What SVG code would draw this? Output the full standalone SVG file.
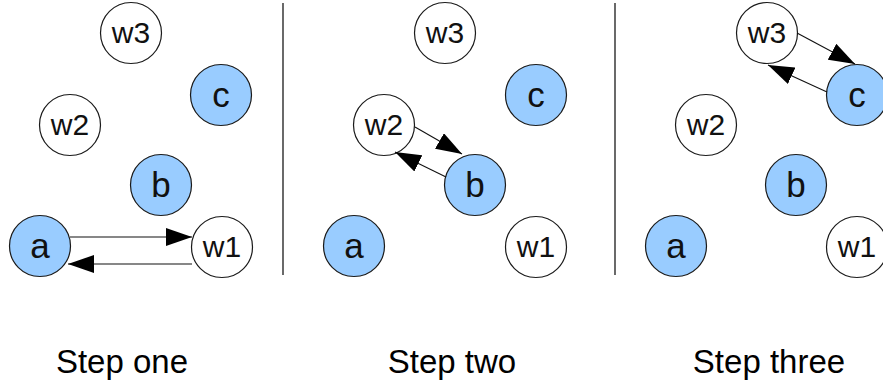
<svg xmlns="http://www.w3.org/2000/svg" width="883" height="385" viewBox="0 0 883 385">
  <style>
    .node circle { stroke: #1a1a1a; stroke-width: 1.2; }
    .blue circle { fill: #99ccff; }
    .white circle { fill: #ffffff; }
    .node text { font-family: "Liberation Sans", Arial, sans-serif; fill: #111; text-anchor: middle; }
    .white text { font-size: 30px; }
    .blue text { font-size: 35px; }
    .divider { stroke: #444; stroke-width: 1.6; }
    .edge { stroke: #111; stroke-width: 1.1; fill: none; marker-end: url(#head); }
    .caption { font-family: "Liberation Sans", Arial, sans-serif; font-size: 33px; fill: #000; text-anchor: middle; }
  </style>
  <defs>
    <marker id="head" markerUnits="userSpaceOnUse" markerWidth="27" markerHeight="18" viewBox="0 0 27 18" refX="26" refY="9" orient="auto">
      <path d="M0,0 L26,9 L0,18 Z" fill="#000"/>
    </marker>
  </defs>

  <rect width="883" height="385" fill="#ffffff"/>

  <!-- panel separators -->
  <line class="divider" x1="283" y1="3" x2="283" y2="275"/>
  <line class="divider" x1="615" y1="3" x2="615" y2="275"/>

  <!-- Step one -->
  <g id="s1-w3" class="node white"><circle cx="131" cy="33" r="30.5"/><text x="131" y="43">w3</text></g>
  <g id="s1-c" class="node blue"><circle cx="221" cy="95" r="30.5"/><text x="221" y="107">c</text></g>
  <g id="s1-w2" class="node white"><circle cx="70" cy="125" r="30.5"/><text x="70" y="135">w2</text></g>
  <g id="s1-b" class="node blue"><circle cx="161" cy="185" r="30.5"/><text x="161" y="197">b</text></g>
  <g id="s1-a" class="node blue"><circle cx="40" cy="246" r="30.5"/><text x="40" y="258">a</text></g>
  <g id="s1-w1" class="node white"><circle cx="222" cy="247" r="30.5"/><text x="222" y="257">w1</text></g>

  <!-- Step two -->
  <g id="s2-w3" class="node white"><circle cx="445" cy="33" r="30.5"/><text x="445" y="43">w3</text></g>
  <g id="s2-c" class="node blue"><circle cx="536" cy="95" r="30.5"/><text x="536" y="107">c</text></g>
  <g id="s2-w2" class="node white"><circle cx="384" cy="125" r="30.5"/><text x="384" y="135">w2</text></g>
  <g id="s2-b" class="node blue"><circle cx="475" cy="185" r="30.5"/><text x="475" y="197">b</text></g>
  <g id="s2-a" class="node blue"><circle cx="354" cy="246" r="30.5"/><text x="354" y="258">a</text></g>
  <g id="s2-w1" class="node white"><circle cx="536" cy="247" r="30.5"/><text x="536" y="257">w1</text></g>

  <!-- Step three -->
  <g id="s3-w3" class="node white"><circle cx="767" cy="33" r="30.5"/><text x="767" y="43">w3</text></g>
  <g id="s3-c" class="node blue"><circle cx="857" cy="95" r="30.5"/><text x="857" y="107">c</text></g>
  <g id="s3-w2" class="node white"><circle cx="706" cy="125" r="30.5"/><text x="706" y="135">w2</text></g>
  <g id="s3-b" class="node blue"><circle cx="796" cy="185" r="30.5"/><text x="796" y="197">b</text></g>
  <g id="s3-a" class="node blue"><circle cx="676" cy="246" r="30.5"/><text x="676" y="258">a</text></g>
  <g id="s3-w1" class="node white"><circle cx="857" cy="247" r="30.5"/><text x="857" y="257">w1</text></g>

  <!-- connectors -->
  <g id="connectors">
    <line class="edge" x1="70" y1="237" x2="192" y2="237"/>
    <line class="edge" x1="192" y1="264" x2="68" y2="264"/>
    <line class="edge" x1="415" y1="127" x2="462" y2="154"/>
    <line class="edge" x1="446" y1="177" x2="395" y2="152"/>
    <line class="edge" x1="797" y1="33" x2="855" y2="64"/>
    <line class="edge" x1="827" y1="92" x2="768" y2="65"/>
  </g>

  <!-- captions -->
  <text class="caption" x="122" y="373">Step one</text>
  <text class="caption" x="452" y="373">Step two</text>
  <text class="caption" x="769" y="373">Step three</text>
</svg>
